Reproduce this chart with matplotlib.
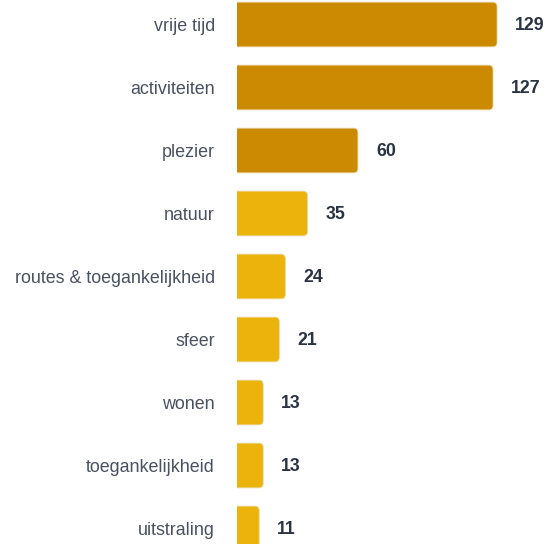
import matplotlib
matplotlib.use("Agg")
import matplotlib.pyplot as plt
from matplotlib.patches import FancyBboxPatch

categories = ["vrije tijd", "activiteiten", "plezier", "natuur",
              "routes & toegankelijkheid", "sfeer", "wonen",
              "toegankelijkheid", "uitstraling"]
counts = [129, 127, 60, 35, 24, 21, 13, 13, 11]
top_n = 3

dark = "#CC8A02"
light = "#EBB30B"

plt.rcParams["font.family"] = ["Liberation Sans", "DejaVu Sans"]

fig = plt.figure(figsize=(5.54, 5.44), dpi=100)
ax = fig.add_axes([237 / 554, 0, 317 / 554, 1])

pos = list(range(len(categories)))
bars = ax.barh(pos, counts, height=0.71)

# px per data unit, to keep the rounded corners round
x_px = 2.016
y_px = 63.0
for i, b in enumerate(bars):
    b.set_visible(False)
    col = dark if i < top_n else light
    y0 = b.get_y()
    h = b.get_height()
    w = b.get_width()
    p = FancyBboxPatch((-5, y0), w + 5, h,
                       boxstyle="round,pad=0,rounding_size=2.2",
                       mutation_aspect=x_px / y_px,
                       facecolor=col, edgecolor="#E8D9A8", linewidth=0.6,
                       clip_on=True)
    ax.add_patch(p)
    ax.annotate(str(counts[i]), (w, pos[i] + 0.015), xytext=(13, 0),
                textcoords="offset points", ha="left", va="center",
                fontsize=12.8, fontweight="bold", color="#2A3342")

ax.set_xlim(0, 317 / x_px)
ax.set_ylim((544 - 24.5) / y_px, -24.5 / y_px)
ax.set_yticks(pos)
ax.set_yticklabels(categories, fontsize=12.9, color="#4A5261")
ax.tick_params(axis="y", length=0, pad=16)
ax.set_xticks([])
for s in ax.spines.values():
    s.set_visible(False)

fig.savefig("out.png", dpi=100)
